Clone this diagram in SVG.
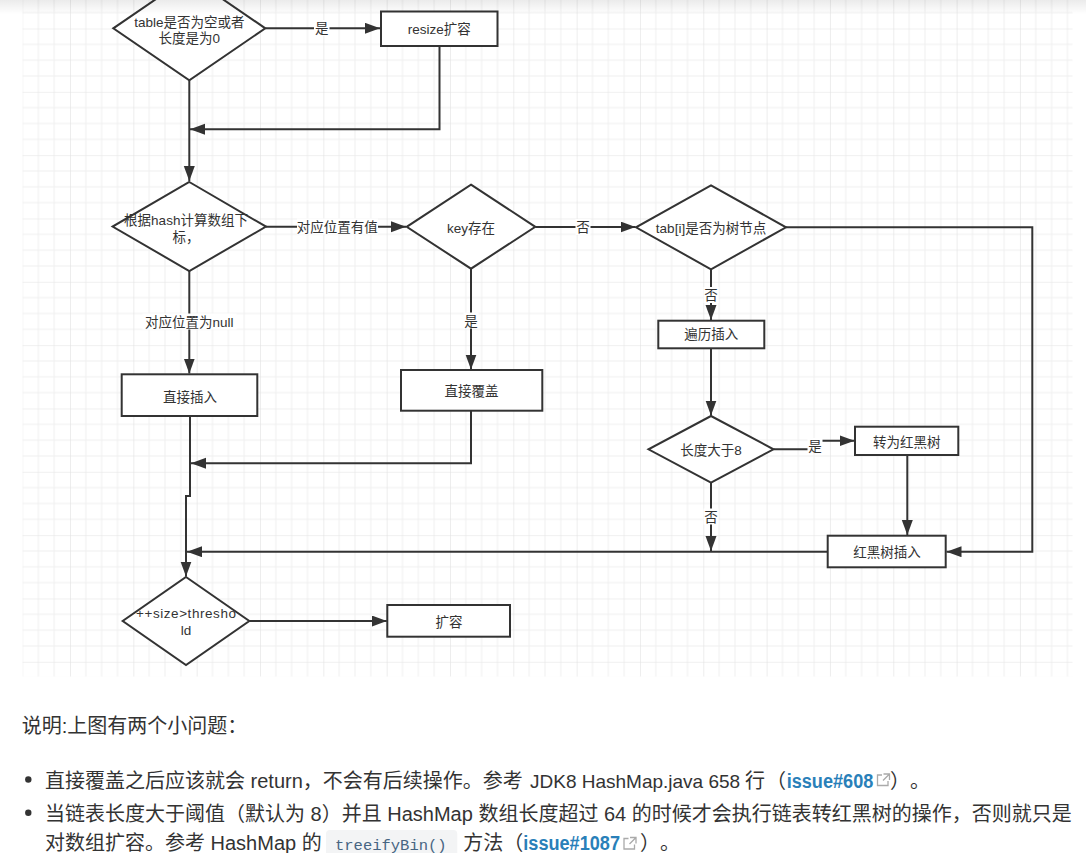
<svg xmlns="http://www.w3.org/2000/svg" width="1086" height="853" viewBox="0 0 1086 853">
<style>
.n{fill:#fff;stroke:#333;stroke-width:2}
.t{font-family:"Liberation Sans","Noto Sans CJK SC",sans-serif;font-size:13.5px;fill:#333;text-anchor:middle}
.e{fill:none;stroke:#333;stroke-width:2}
.lb{fill:#fff}
.b{font-family:"Liberation Sans","Noto Sans CJK SC",sans-serif;font-size:20px;fill:#333}
.lk{font-weight:bold;fill:#2980b9}
.ic{fill:none;stroke:#aaa;stroke-width:1.3}
</style>
<defs>
<marker id="arr" markerUnits="userSpaceOnUse" markerWidth="16" markerHeight="12" refX="15" refY="5.5" orient="auto"><path d="M0,0 L15,5.5 L0,11 z" fill="#333"/></marker>
<pattern id="grid" patternUnits="userSpaceOnUse" x="6.67" y="28.5" width="63.33" height="63.33">
<path d="M15.83 0V63.33M31.67 0V63.33M47.5 0V63.33M0 15.83H63.33M0 31.67H63.33M0 47.5H63.33" stroke="#f0f0f0" stroke-width="1" fill="none"/>
<path d="M0 0V63.33M0 0H63.33" stroke="#e2e2e2" stroke-width="1.2" fill="none"/>
</pattern>
<linearGradient id="sh" x1="0" y1="0" x2="0" y2="1">
<stop offset="0" stop-color="#000" stop-opacity="0.08"/>
<stop offset="1" stop-color="#000" stop-opacity="0"/>
</linearGradient>
</defs>
<rect width="1086" height="853" fill="#fff"/>
<g id="canvas">
<rect x="22.5" y="0" width="1050" height="676.5" fill="#fff"/>
<rect x="22.5" y="0" width="1050" height="676.5" fill="url(#grid)"/>
</g>

<g id="connectors">
<path class="e" d="M265.3 28.3H380" marker-end="url(#arr)"/>
<path class="e" d="M439.5 46V129.3H190" marker-end="url(#arr)"/>
<path class="e" d="M189.3 80.3V181" marker-end="url(#arr)"/>
<path class="e" d="M266 226.7H406" marker-end="url(#arr)"/>
<path class="e" d="M535.3 227H635.5" marker-end="url(#arr)"/>
<path class="e" d="M786 227.3H1032.3V551.7H946.5" marker-end="url(#arr)"/>
<path class="e" d="M711 269.3V320" marker-end="url(#arr)"/>
<path class="e" d="M711 348.3V415.5" marker-end="url(#arr)"/>
<path class="e" d="M773.5 449.3H815V440.8H854.5" marker-end="url(#arr)"/>
<path class="e" d="M907.3 455V535" marker-end="url(#arr)"/>
<path class="e" d="M711 482.7V551" marker-end="url(#arr)"/>
<path class="e" d="M827.7 551.7H187" marker-end="url(#arr)"/>
<path class="e" d="M189.3 271V373.5" marker-end="url(#arr)"/>
<path class="e" d="M471 268.7V369.5" marker-end="url(#arr)"/>
<path class="e" d="M471 410.7V463.3H191" marker-end="url(#arr)"/>
<path class="e" d="M190 416V496H186V576.5" marker-end="url(#arr)"/>
<path class="e" d="M249.3 621H386.8" marker-end="url(#arr)"/>
<rect class="lb" x="314" y="20" width="15.5" height="16"/>
<text class="t" x="321.7" y="33">是</text>
<rect class="lb" x="297" y="218.5" width="81" height="16"/>
<text class="t" x="337.3" y="231.5">对应位置有值</text>
<rect class="lb" x="575.5" y="219" width="15" height="16"/>
<text class="t" x="583" y="232">否</text>
<rect class="lb" x="703.5" y="287" width="15" height="16"/>
<text class="t" x="711" y="300">否</text>
<rect class="lb" x="807.5" y="438" width="15" height="15"/>
<text class="t" x="815" y="451">是</text>
<rect class="lb" x="703.5" y="508.5" width="15" height="16"/>
<text class="t" x="711" y="521.5">否</text>
<rect class="lb" x="142.5" y="313.5" width="94" height="16"/>
<text class="t" x="189.3" y="326.5">对应位置为null</text>
<rect class="lb" x="463.5" y="312.5" width="15" height="16"/>
<text class="t" x="471" y="325.5">是</text>
</g>

<g id="n-table-empty">
<path class="n" d="M189.3 -23.7L265.3 28.3L189.3 80.3L113.3 28.3Z"/>
<text class="t" x="189.3" y="26.5">table是否为空或者</text>
<text class="t" x="189.3" y="43">长度是为0</text>
</g>
<g id="n-resize">
<rect class="n" x="381" y="11.5" width="116.5" height="34.5"/>
<text class="t" x="439.3" y="34">resize扩容</text>
</g>
<g id="n-hash-index">
<path class="n" d="M189.3 182L266 226.6L189.3 271L112.6 226.6Z"/>
<text class="t" x="186" y="225">根据hash计算数组下</text>
<text class="t" x="186" y="241.5">标，</text>
</g>
<g id="n-key-exists">
<path class="n" d="M471 184.7L535.3 226.8L471 268.7L406.7 226.8Z"/>
<text class="t" x="471" y="233">key存在</text>
</g>
<g id="n-tree-node">
<path class="n" d="M711 185.3L786 227.3L711 269.3L636 227.3Z"/>
<text class="t" x="711" y="233">tab[i]是否为树节点</text>
</g>
<g id="n-traverse-insert">
<rect class="n" x="658.3" y="320.7" width="106" height="27.6"/>
<text class="t" x="711.3" y="339">遍历插入</text>
</g>
<g id="n-len-gt-8">
<path class="n" d="M711 416L773.5 449.3L711 482.7L648.5 449.3Z"/>
<text class="t" x="711" y="455">长度大于8</text>
</g>
<g id="n-to-rbtree">
<rect class="n" x="855" y="426.7" width="103.3" height="28.3"/>
<text class="t" x="906.7" y="446.5">转为红黑树</text>
</g>
<g id="n-rbtree-insert">
<rect class="n" x="827.7" y="535.7" width="118" height="31.6"/>
<text class="t" x="887" y="556.5">红黑树插入</text>
</g>
<g id="n-direct-insert">
<rect class="n" x="121.7" y="374.3" width="135.6" height="41.7"/>
<text class="t" x="190" y="401.5">直接插入</text>
</g>
<g id="n-direct-overwrite">
<rect class="n" x="401" y="370" width="141.3" height="40.7"/>
<text class="t" x="471.5" y="395.5">直接覆盖</text>
</g>
<g id="n-size-threshold">
<path class="n" d="M186 577L249.3 621L186 665L122.7 621Z"/>
<text class="t" x="186" y="618" textLength="100" lengthAdjust="spacing">++size&gt;thresho</text>
<text class="t" x="186" y="635">ld</text>
</g>
<g id="n-expand">
<rect class="n" x="387.3" y="605" width="122.7" height="31.7"/>
<text class="t" x="449" y="626.5">扩容</text>
</g>

<rect x="0" y="0" width="1086" height="14" fill="url(#sh)"/>

<g id="notes">
<text class="b" x="21.7" y="732.5">说明:上图有两个小问题：</text>
<circle cx="28.3" cy="779.5" r="3.2" fill="#333"/>
<circle cx="28.3" cy="812.8" r="3.2" fill="#333"/>
<text class="b" x="45" y="787.5">直接覆盖之后应该就会 return，不会有后续操作。参考</text>
<text class="b" x="530" y="787.5" style="font-size:19px">JDK8 HashMap.java 658</text>
<text class="b" y="787.5"><tspan x="745">行</tspan><tspan x="766">（</tspan><tspan x="786.7" class="lk" textLength="86.6" lengthAdjust="spacingAndGlyphs">issue#608</tspan><tspan x="890">）</tspan><tspan x="910">。</tspan></text>
<path class="ic" d="M883.5 774H889.5V780M889.5 774L883 780.5M882 775H877.5V785.5H888V781"/>
<text class="b" x="45" y="821">当链表长度大于阈值（默认为 8）并且 HashMap 数组长度超过 64 的时候才会执行链表转红黑树的操作，否则就只是</text>
<rect x="326" y="830" width="131.3" height="30" rx="4" fill="#f3f4f5"/>
<text class="b" y="849.5"><tspan x="45">对数组扩容。参考 HashMap 的</tspan><tspan x="335" style="font-family:'Liberation Mono',monospace;font-size:15.5px;fill:#476582">treeifyBin()</tspan><tspan x="463.3">方法</tspan><tspan x="503.3">（</tspan><tspan x="523.3" class="lk" textLength="96.7" lengthAdjust="spacingAndGlyphs">issue#1087</tspan><tspan x="640">）</tspan><tspan x="660">。</tspan></text>
<path class="ic" d="M630 837.5H636V843.5M636 837.5L629.5 844M628.5 838.5H624V849H634.5V844.5"/>
</g>
</svg>
